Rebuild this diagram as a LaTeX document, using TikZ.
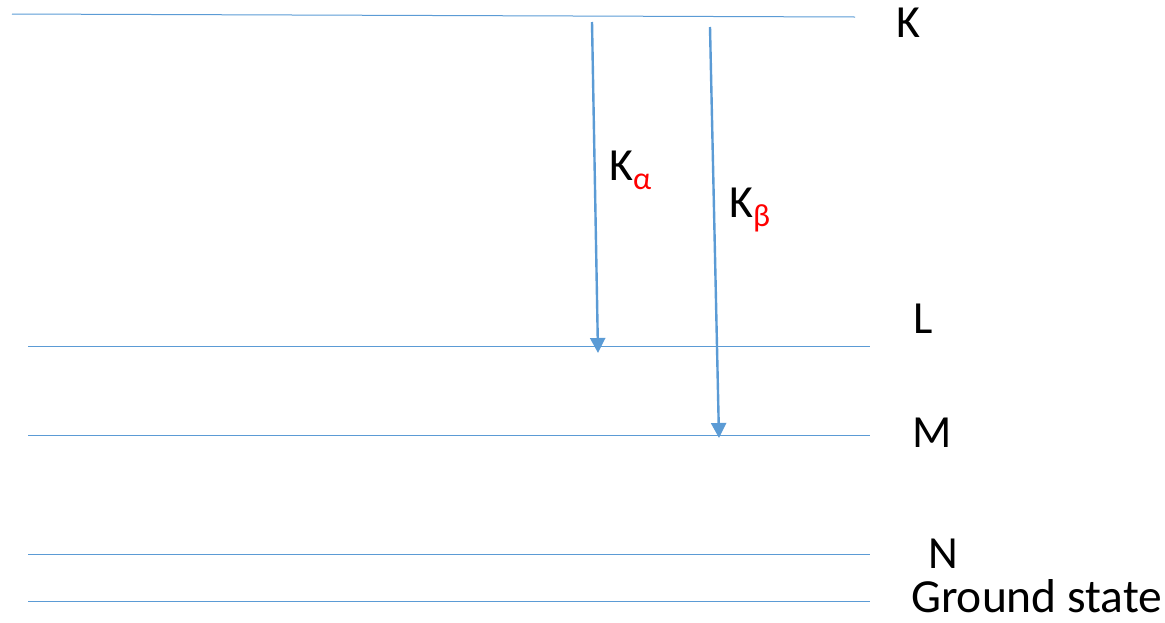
\documentclass[tikz,border=0pt]{standalone}
\usepackage{fontspec}
\setmainfont{Carlito}
\usetikzlibrary{arrows.meta}
\definecolor{lvl}{RGB}{91,155,213}
\begin{document}
\begin{tikzpicture}[x=1pt,y=-1pt,
  level/.style={draw=lvl,line width=1pt},
  trans/.style={draw=lvl,line width=2.4pt,-{Triangle[width=15pt,length=15pt]}},
  lbl/.style={anchor=base west,inner sep=0pt,font=\fontsize{46}{50}\selectfont}]
\useasboundingbox (0,0) rectangle (1165,622);
% energy levels
\coordinate (k1) at (12,14);   \coordinate (k2) at (855,17);
\coordinate (l1) at (28,346);  \coordinate (l2) at (870,346);
\coordinate (m1) at (28,435);  \coordinate (m2) at (870,435);
\coordinate (n1) at (28,554);  \coordinate (n2) at (870,554);
\coordinate (g1) at (28,601);  \coordinate (g2) at (870,601);
\draw[level] (k1) -- (k2);
\draw[level] (l1) -- (l2);
\draw[level] (m1) -- (m2);
\draw[level] (n1) -- (n2);
\draw[level] (g1) -- (g2);
% transitions
\coordinate (a1) at (592,22);  \coordinate (a2) at (598,353);
\coordinate (b1) at (710,27);  \coordinate (b2) at (719,438);
\draw[trans] (a1) -- (a2);
\draw[trans] (b1) -- (b2);
% level labels
\node[lbl] (tK) at (896,37) {K};
\node[lbl] (tL) at (913,333) {L};
\node[lbl] (tM) at (912,447) {M};
\node[lbl] (tN) at (928,568) {N};
\node[lbl,font=\fontsize{47.5}{50}\selectfont] (tG) at (911,612) {Ground state};
% transition labels
\node[lbl] (tKa) at (609,180) {K\raisebox{-9pt}{\fontsize{32}{34}\selectfont\color{red}α}};
\node[lbl] (tKb) at (729,217) {K\raisebox{-9pt}{\fontsize{32}{34}\selectfont\color{red}β}};
\end{tikzpicture}
\end{document}
